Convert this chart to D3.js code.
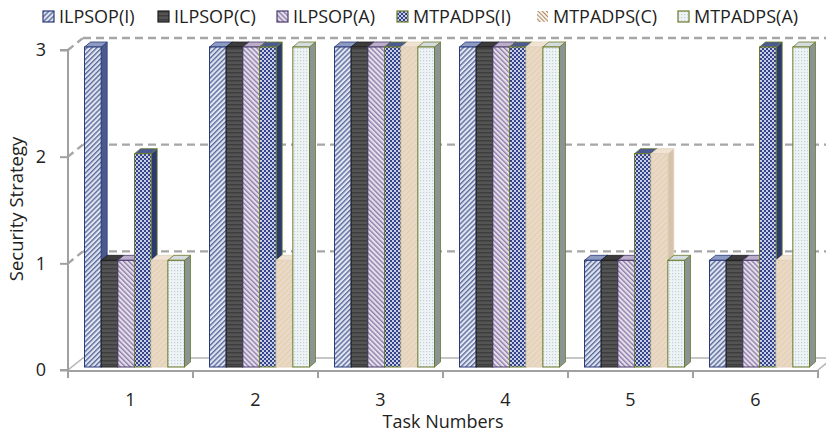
<!DOCTYPE html>
<html>
<head>
<meta charset="utf-8">
<script src="https://cdn.jsdelivr.net/npm/d3@7"></script>
<style>
  html, body { margin: 0; padding: 0; background: #ffffff; }
  svg { display: block; font-family: "Open Sans", "Noto Sans", sans-serif; }
</style>
</head>
<body>
<svg id="chart" width="826" height="436"></svg>
<script>
// Task categories and security strategy levels per approach
const categories = ["1", "2", "3", "4", "5", "6"];
const seriesNames = ["ILPSOP(I)", "ILPSOP(C)", "ILPSOP(A)", "MTPADPS(I)", "MTPADPS(C)", "MTPADPS(A)"];
const ilpsopI   = [3, 3, 3, 3, 1, 1];
const ilpsopC   = [1, 3, 3, 3, 1, 1];
const ilpsopA   = [1, 3, 3, 3, 1, 1];
const mtpadpsI  = [2, 3, 3, 3, 2, 3];
const mtpadpsC  = [1, 1, 3, 3, 2, 1];
const mtpadpsA  = [1, 3, 3, 3, 1, 3];
const yTicks = [0, 1, 2, 3];

const seriesValues = [ilpsopI, ilpsopC, ilpsopA, mtpadpsI, mtpadpsC, mtpadpsA];

// Per-series look: pattern id, face colours, edge colour
const styles = [
  { pat: "pI",  side: "#4a5a8e", top: "#8d9ac2", edge: "#2a3a7a" },
  { pat: "pC",  side: "#2c2c2c", top: "#3c3c3c", edge: "#1e1e1e" },
  { pat: "pA",  side: "#76688c", top: "#bcaecb", edge: "#4a3a6a" },
  { pat: "pMI", side: "#2c3a6e", top: "#4c5a92", edge: "#6a7a2a" },
  { pat: "pMC", side: "#d6c4aa", top: "#f0e3d2", edge: "#e2d2be" },
  { pat: "pMA", side: "#8a9494", top: "#d4dcde", edge: "#6a7a2a" }
];

const svg = d3.select("#chart");

// ---- fill patterns ----
const defs = svg.append("defs");
function hatch(id, bg, fg, angle, gap, w) {
  const p = defs.append("pattern").attr("id", id)
    .attr("patternUnits", "userSpaceOnUse").attr("width", gap).attr("height", gap)
    .attr("patternTransform", `rotate(${angle})`);
  p.append("rect").attr("width", gap).attr("height", gap).attr("fill", bg);
  p.append("rect").attr("width", w).attr("height", gap).attr("fill", fg);
}
hatch("pI", "#e2e6f0", "#5b6c9e", 45, 3.5, 1.4);
hatch("pA", "#e6dfec", "#8f80aa", -45, 3.5, 1.4);
hatch("pMC", "#ead9c4", "#e2cfb6", 45, 4, 1.2);
hatch("pMCicon", "#ffffff", "#b08a60", -45, 3, 1.2);
(function () {
  const p = defs.append("pattern").attr("id", "pC")
    .attr("patternUnits", "userSpaceOnUse").attr("width", 4).attr("height", 4);
  p.append("rect").attr("width", 4).attr("height", 4).attr("fill", "#545454");
  p.append("rect").attr("width", 4).attr("height", 1.5).attr("fill", "#3e3e3e");
})();
(function () {
  const p = defs.append("pattern").attr("id", "pMI")
    .attr("patternUnits", "userSpaceOnUse").attr("width", 4).attr("height", 4);
  p.append("rect").attr("width", 4).attr("height", 4).attr("fill", "#34448a");
  p.append("rect").attr("width", 2).attr("height", 2).attr("fill", "#c9cee4");
  p.append("rect").attr("x", 2).attr("y", 2).attr("width", 2).attr("height", 2).attr("fill", "#c9cee4");
})();
(function () {
  const p = defs.append("pattern").attr("id", "pMA")
    .attr("patternUnits", "userSpaceOnUse").attr("width", 3).attr("height", 3);
  p.append("rect").attr("width", 3).attr("height", 3).attr("fill", "#eef4f6");
  p.append("rect").attr("width", 1.2).attr("height", 1.2).attr("fill", "#c3ced6");
})();

// ---- scales ----
const x = d3.scaleBand().domain(categories).range([68, 818]).paddingInner(0).paddingOuter(0);
const xSub = d3.scaleBand().domain(seriesNames).range([0, x.bandwidth()]).paddingInner(0).paddingOuter(0.75);
const y = d3.scaleLinear().domain([0, 3]).range([370, 50]);

// 3-D offsets: back wall, bar row position, bar depth
const wall = { dx: 15, dy: -12 };
const row  = { dx: 4,  dy: -3 };
const deep = { dx: 6,  dy: -5 };

const gridColor = "#a6a6a6";

// ---- back wall gridlines ----
const grid = svg.append("g");
yTicks.filter(t => t > 0).forEach(t => {
  grid.append("line")
    .attr("x1", x.range()[0]).attr("y1", y(t))
    .attr("x2", x.range()[0] + wall.dx).attr("y2", y(t) + wall.dy)
    .attr("stroke", gridColor).attr("stroke-width", 2.4).attr("stroke-dasharray", "7,5");
  grid.append("line")
    .attr("x1", x.range()[0] + wall.dx).attr("y1", y(t) + wall.dy)
    .attr("x2", x.range()[1] + wall.dx).attr("y2", y(t) + wall.dy)
    .attr("stroke", gridColor).attr("stroke-width", 2.4).attr("stroke-dasharray", "8,5");
});

// ---- floor ----
const floor = svg.append("g").attr("stroke", "#b4b4b4").attr("stroke-width", 1.6).attr("fill", "none");
floor.append("path").attr("d", d3.line()([
  [x.range()[0], y(0)],
  [x.range()[0] + wall.dx, y(0) + wall.dy],
  [x.range()[1] + wall.dx, y(0) + wall.dy],
  [x.range()[1], y(0)]
]));

// ---- bars ----
const barsG = svg.append("g");
categories.forEach((c, ci) => {
  seriesNames.forEach((s, si) => {
    const v = seriesValues[si][ci];
    const st = styles[si];
    const x0 = x(c) + xSub(s) + row.dx;
    const w = xSub.bandwidth();
    const yb = y(0) + row.dy;
    const yt = y(v) + row.dy;
    const g = barsG.append("g");
    // right side face
    g.append("path").attr("d", d3.line()([
      [x0 + w, yb], [x0 + w + deep.dx, yb + deep.dy],
      [x0 + w + deep.dx, yt + deep.dy], [x0 + w, yt]
    ]) + "Z").attr("fill", st.side).attr("stroke", st.edge).attr("stroke-width", 0.8);
    // top face
    g.append("path").attr("d", d3.line()([
      [x0, yt], [x0 + deep.dx, yt + deep.dy],
      [x0 + w + deep.dx, yt + deep.dy], [x0 + w, yt]
    ]) + "Z").attr("fill", st.top).attr("stroke", st.edge).attr("stroke-width", 0.8);
    // front face
    g.append("rect")
      .attr("x", x0).attr("y", yt).attr("width", w).attr("height", yb - yt)
      .attr("fill", `url(#${st.pat})`).attr("stroke", st.edge).attr("stroke-width", 1);
  });
});

// ---- y axis ----
const yAxis = d3.axisLeft(y).tickValues(yTicks).tickFormat(d3.format("d")).tickSize(8).tickPadding(14);
const yG = svg.append("g").attr("transform", `translate(${x.range()[0]},0)`).call(yAxis);
yG.select(".domain").attr("stroke", "#a0a0a0").attr("stroke-width", 2).attr("d", `M-8,${y(3)}H0V${y(0)}H-8`);
yG.selectAll(".tick line").attr("stroke", "#a0a0a0").attr("stroke-width", 2);
yG.selectAll(".tick text").attr("fill", "#222").style("font-size", "18px")
  .style("font-family", "'Open Sans', sans-serif");

// ---- x axis: ticks at category boundaries, labels centred ----
const xG = svg.append("g");
const bounds = categories.map(c => x(c)).concat([x.range()[1]]);
xG.append("line").attr("x1", x.range()[0]).attr("x2", x.range()[1])
  .attr("y1", y(0) + 1).attr("y2", y(0) + 1).attr("stroke", "#a0a0a0").attr("stroke-width", 2);
xG.selectAll("line.tk").data(bounds).join("line").attr("class", "tk")
  .attr("x1", d => d).attr("x2", d => d).attr("y1", y(0)).attr("y2", y(0) + 8)
  .attr("stroke", "#a0a0a0").attr("stroke-width", 2);
xG.selectAll("text").data(categories).join("text")
  .attr("x", d => x(d) + x.bandwidth() / 2).attr("y", 406)
  .attr("text-anchor", "middle").attr("fill", "#222").style("font-size", "18px")
  .text(d => d);

// ---- axis titles ----
svg.append("text").attr("x", 443).attr("y", 428).attr("text-anchor", "middle")
  .attr("fill", "#222").style("font-size", "18px").text("Task Numbers");
svg.append("text").attr("transform", "translate(23,209) rotate(-90)").attr("text-anchor", "middle")
  .attr("fill", "#222").style("font-size", "18.5px").text("Security Strategy");

// ---- legend ----
const legendX = [43, 158, 277, 397, 537, 678];
const leg = svg.append("g");
seriesNames.forEach((s, i) => {
  const g = leg.append("g").attr("transform", `translate(${legendX[i]},11)`);
  g.append("rect").attr("width", 11).attr("height", 11)
    .attr("fill", `url(#${i === 4 ? "pMCicon" : styles[i].pat})`)
    .attr("stroke", i === 4 ? "none" : styles[i].edge).attr("stroke-width", 1.2);
  g.append("text").attr("x", 16).attr("y", 12).attr("fill", "#222")
    .style("font-size", "18px").text(s);
});
</script>
</body>
</html>
